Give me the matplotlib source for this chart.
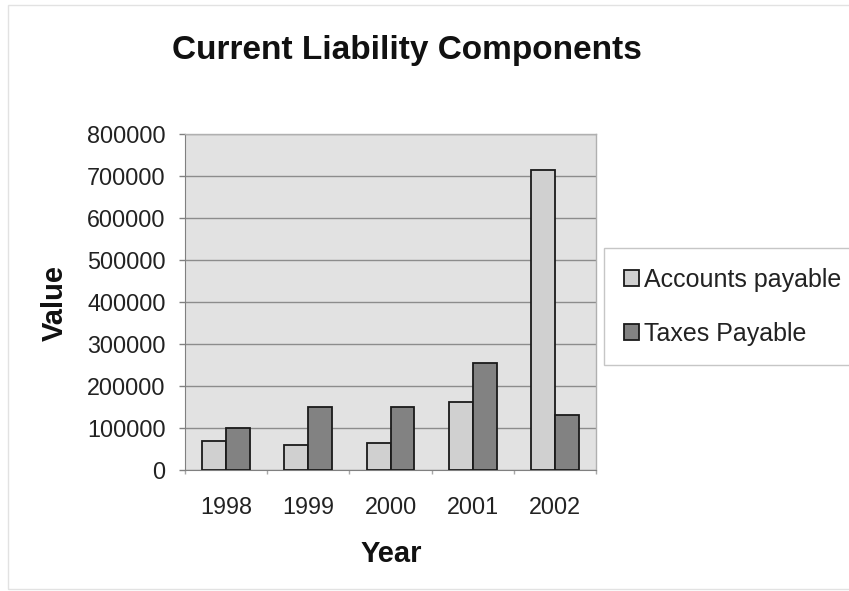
import matplotlib
matplotlib.use("Agg")
import matplotlib.pyplot as plt
from matplotlib.patches import Rectangle
from matplotlib.ticker import MultipleLocator, FixedLocator, NullFormatter
import numpy as np

plt.rcParams['font.family'] = ['Liberation Sans', 'DejaVu Sans']

years = ['1998', '1999', '2000', '2001', '2002']
accounts_payable = [69000, 60000, 65000, 163000, 714000]
taxes_payable = [100000, 149000, 149000, 254000, 131000]
series_names = ['Accounts payable', 'Taxes Payable']

W, H, DPI = 849, 591, 100
fig = plt.figure(figsize=(W / DPI, H / DPI), dpi=DPI)
fig.patch.set_facecolor('white')

# faint outer chart frame
fig.patches.append(Rectangle((8 / W, 1 - 589 / H), 1.0, 584 / H,
                             transform=fig.transFigure, fill=False,
                             edgecolor='#e2e2e2', linewidth=1.0))

ax = fig.add_axes([185 / W, 1 - 470 / H, 411 / W, 336 / H])
ax.set_facecolor('#e2e2e2')

x = np.arange(len(years))
bw = 0.29
ax.bar(x - bw / 2, accounts_payable, width=bw, color='#d0d0d0',
       edgecolor='#1a1a1a', linewidth=1.3, label=series_names[0], zorder=3)
ax.bar(x + bw / 2, taxes_payable, width=bw, color='#828282',
       edgecolor='#1a1a1a', linewidth=1.3, label=series_names[1], zorder=3)

ax.set_xlim(-0.5, len(years) - 0.5)
ax.set_ylim(0, 800000)
ax.yaxis.set_major_locator(MultipleLocator(100000))
ax.yaxis.grid(True, color='#8c8c8c', linewidth=1.0, zorder=1)
ax.set_axisbelow(True)

ax.set_xticks(x)
ax.set_xticklabels(years)
ax.xaxis.set_minor_locator(FixedLocator(np.arange(-0.5, len(years), 1.0)))
ax.xaxis.set_minor_formatter(NullFormatter())

ax.tick_params(axis='y', which='major', length=4, width=1, color='#808080',
               pad=10, labelsize=16.8, labelcolor='#222222', direction='out')
ax.tick_params(axis='x', which='major', length=0, pad=19,
               labelsize=16.8, labelcolor='#222222')
ax.tick_params(axis='x', which='minor', length=3, width=1, color='#a8a8a8',
               direction='out')

for side in ('top', 'right'):
    ax.spines[side].set_color('#b0b0b0')
    ax.spines[side].set_linewidth(1.0)
ax.spines['left'].set_color('#808080')
ax.spines['bottom'].set_color('#808080')

fig.text(407 / W, 1 - 59 / H, 'Current Liability Components', ha='center',
         va='baseline', fontsize=24, fontweight='bold', color='#111111')
fig.text(55 / W, 1 - 303 / H, 'Value', ha='center', va='center',
         rotation=90, fontsize=21, fontweight='bold', color='#111111')
fig.text(391 / W, 1 - 554 / H, 'Year', ha='center', va='center',
         fontsize=21, fontweight='bold', color='#111111')

leg = ax.legend(loc='upper left', bbox_to_anchor=(604 / W, 1 - 248 / H),
                bbox_transform=fig.transFigure, fontsize=18,
                frameon=True, fancybox=False, borderpad=0.78,
                handlelength=0.6, handleheight=0.6, handletextpad=0.24,
                labelspacing=1.2, borderaxespad=0)
leg.get_frame().set_edgecolor('#b8b8b8')
leg.get_frame().set_linewidth(1.0)
leg.get_frame().set_facecolor('white')
for t in leg.get_texts():
    t.set_color('#222222')

fig.savefig('out.png', dpi=DPI)
